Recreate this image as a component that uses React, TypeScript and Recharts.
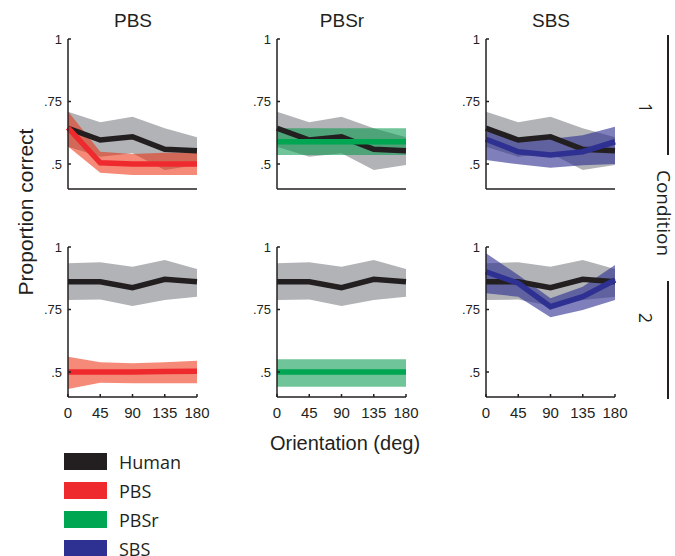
import React from "react";
import { Area, ComposedChart, Line, XAxis, YAxis } from "recharts";

const orientations = [0, 45, 90, 135, 180];
const yTicks = [0.5, 0.75, 1];
const models = ["PBS", "PBSr", "SBS"];
const conditions = ["1", "2"];

// condition 1
const human1 = [0.643, 0.596, 0.609, 0.559, 0.553];
const human1Lo = [0.569, 0.529, 0.543, 0.476, 0.496];
const human1Hi = [0.709, 0.667, 0.689, 0.643, 0.607];
const pbs1 = [0.645, 0.505, 0.5, 0.5, 0.5];
const pbs1Lo = [0.57, 0.465, 0.456, 0.456, 0.456];
const pbs1Hi = [0.71, 0.549, 0.54, 0.545, 0.545];
const pbsr1 = [0.589, 0.589, 0.589, 0.589, 0.589];
const pbsr1Lo = [0.536, 0.536, 0.536, 0.536, 0.536];
const pbsr1Hi = [0.643, 0.643, 0.643, 0.643, 0.643];
const sbs1 = [0.599, 0.549, 0.536, 0.549, 0.589];
const sbs1Lo = [0.516, 0.499, 0.485, 0.495, 0.5];
const sbs1Hi = [0.655, 0.6, 0.6, 0.615, 0.649];

// condition 2
const human2 = [0.861, 0.861, 0.837, 0.871, 0.861];
const human2Lo = [0.788, 0.79, 0.764, 0.788, 0.801];
const human2Hi = [0.935, 0.939, 0.921, 0.948, 0.912];
const pbs2 = [0.5, 0.5, 0.5, 0.502, 0.503];
const pbs2Lo = [0.432, 0.457, 0.455, 0.455, 0.455];
const pbs2Hi = [0.561, 0.539, 0.535, 0.539, 0.545];
const pbsr2 = [0.5, 0.5, 0.5, 0.5, 0.5];
const pbsr2Lo = [0.441, 0.441, 0.441, 0.441, 0.441];
const pbsr2Hi = [0.551, 0.551, 0.551, 0.551, 0.551];
const sbs2 = [0.901, 0.855, 0.761, 0.801, 0.868];
const sbs2Lo = [0.815, 0.801, 0.719, 0.748, 0.788];
const sbs2Hi = [0.975, 0.888, 0.795, 0.841, 0.928];

const legendItems = ["Human", "PBS", "PBSr", "SBS"];
const colors: Record<string, string> = {
  Human: "#231f20",
  PBS: "#ee2a2e",
  PBSr: "#00a651",
  SBS: "#2e3192",
};
// shaded intervals: colour + opacity
const bandFill: Record<string, [string, number]> = {
  PBS: ["#ec2a0a", 0.55],
  PBSr: ["#00954a", 0.56],
  SBS: ["#2e3192", 0.62],
};

const ink = "#231f20";
const colX = [68, 277, 486];
const rowY = [39, 247];

function build(h: number[], hLo: number[], hHi: number[], m: number[], mLo: number[], mHi: number[]) {
  return orientations.map((x, i) => ({
    x,
    human: h[i],
    humanBand: [hLo[i], hHi[i]],
    model: m[i],
    modelBand: [mLo[i], mHi[i]],
  }));
}

const panels = [
  [
    build(human1, human1Lo, human1Hi, pbs1, pbs1Lo, pbs1Hi),
    build(human1, human1Lo, human1Hi, pbsr1, pbsr1Lo, pbsr1Hi),
    build(human1, human1Lo, human1Hi, sbs1, sbs1Lo, sbs1Hi),
  ],
  [
    build(human2, human2Lo, human2Hi, pbs2, pbs2Lo, pbs2Hi),
    build(human2, human2Lo, human2Hi, pbsr2, pbsr2Lo, pbsr2Hi),
    build(human2, human2Lo, human2Hi, sbs2, sbs2Lo, sbs2Hi),
  ],
];

const fmtY = (v: number) => (v === 1 ? "1" : String(v).replace(/^0/, ""));

function Panel({ left, top, data, model, showX }: any) {
  const [bandColor, bandOpacity] = bandFill[model];
  return (
    <div style={{ position: "absolute", left: left - 40, top: top - 12 }}>
      <ComposedChart width={185} height={192} data={data} margin={{ top: 12, right: 16, bottom: 0, left: 0 }}>
        <XAxis
          dataKey="x"
          type="number"
          domain={[0, 180]}
          ticks={orientations}
          interval={0}
          height={30}
          tickSize={-3}
          tickMargin={13}
          stroke={ink}
          strokeWidth={1.5}
          tick={showX ? { fill: ink, fontSize: 15 } : false}
        />
        <YAxis
          type="number"
          domain={[0.4, 1]}
          ticks={yTicks}
          interval={0}
          width={40}
          tickSize={-3}
          tickMargin={9}
          stroke={ink}
          strokeWidth={1.5}
          tickFormatter={fmtY}
          tick={{ fill: ink, fontSize: 13 }}
        />
        <Area dataKey="humanBand" fill="#b1b3b6" fillOpacity={1} stroke="none" isAnimationActive={false} />
        <Line dataKey="human" stroke={ink} strokeWidth={5.5} dot={false} isAnimationActive={false} />
        <Area dataKey="modelBand" fill={bandColor} fillOpacity={bandOpacity} stroke="none" isAnimationActive={false} />
        <Line dataKey="model" stroke={colors[model]} strokeWidth={5.5} dot={false} isAnimationActive={false} />
      </ComposedChart>
    </div>
  );
}

function Label({ x, y, text, size, rotate = 0, font }: any) {
  return (
    <div
      style={{
        position: "absolute",
        left: x,
        top: y,
        transform: `translate(-50%, -50%) rotate(${rotate}deg)`,
        fontSize: size,
        fontFamily: font,
        color: ink,
        whiteSpace: "nowrap",
        lineHeight: 1,
      }}
    >
      {text}
    </div>
  );
}

const sans = "'Liberation Sans', Arial, sans-serif";
const myriad = "'Open Sans', 'Noto Sans', sans-serif";

export default function App() {
  return (
    <div
      style={{
        position: "fixed",
        left: 0,
        top: 0,
        width: 675,
        height: 556,
        background: "#fff",
        fontFamily: sans,
        overflow: "hidden",
      }}
    >
      {models.map((m, c) => (
        <Label key={m} x={colX[c] + 65} y={20} text={m} size={19} font={sans} />
      ))}
      {panels.map((row, r) =>
        row.map((data, c) => (
          <Panel key={`${r}-${c}`} left={colX[c]} top={rowY[r]} data={data} model={models[c]} showX={r === 1} />
        ))
      )}
      <Label x={25} y={212} text="Proportion correct" size={21} rotate={-90} font={sans} />
      <Label x={345} y={443} text="Orientation (deg)" size={20} font={sans} />

      <div style={{ position: "absolute", left: 667, top: 35, width: 2, height: 120, background: ink }} />
      <div style={{ position: "absolute", left: 667, top: 281, width: 2, height: 118, background: ink }} />
      <Label x={646} y={108} text={conditions[0]} size={18} rotate={90} font={myriad} />
      <Label x={663} y={213} text="Condition" size={19} rotate={90} font={myriad} />
      <Label x={646} y={318} text={conditions[1]} size={18} rotate={90} font={myriad} />

      {legendItems.map((name, i) => (
        <div key={name} style={{ position: "absolute", left: 64, top: 453 + i * 29, height: 17, display: "flex", alignItems: "center" }}>
          <div style={{ width: 43, height: 17, background: colors[name] }} />
          <div style={{ marginLeft: 12, fontSize: 18, fontFamily: myriad, color: ink, lineHeight: 1 }}>{name}</div>
        </div>
      ))}
    </div>
  );
}
